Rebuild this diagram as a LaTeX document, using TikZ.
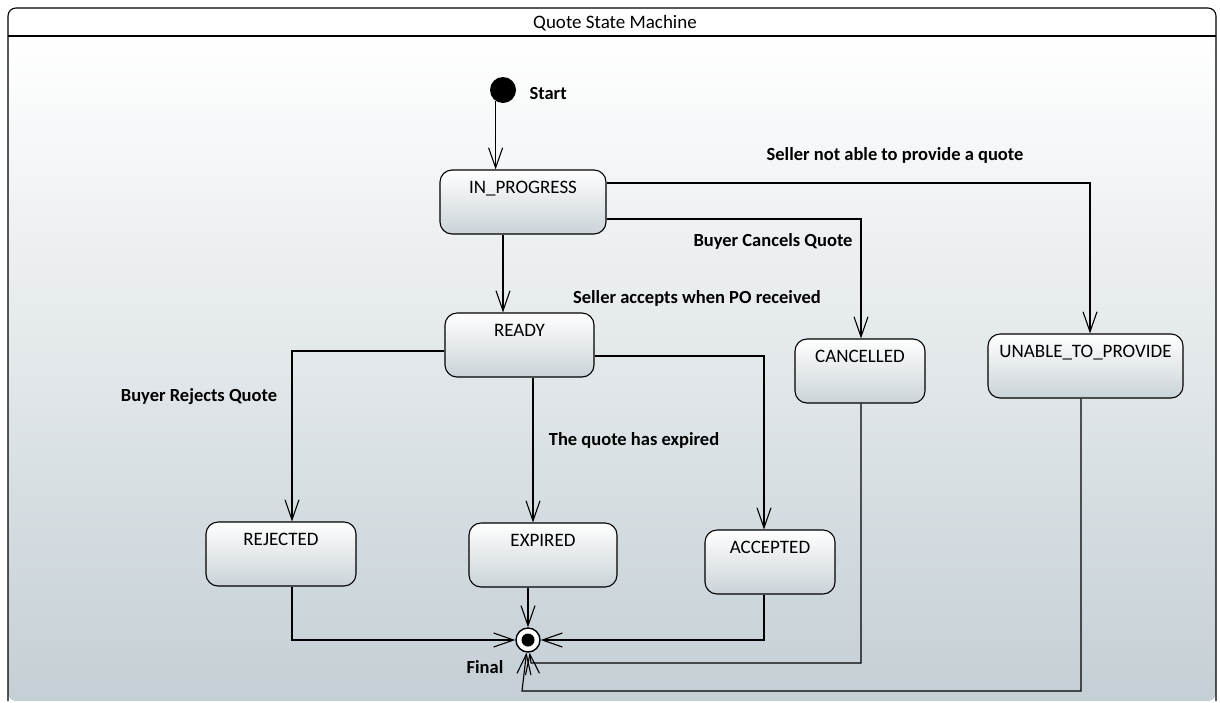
\documentclass[tikz,border=0pt]{standalone}
\usepackage{fontspec}
\setmainfont{Carlito}
\usetikzlibrary{arrows.meta}

\definecolor{bgbottom}{RGB}{196,207,213}
\definecolor{statebottom}{RGB}{202,211,216}

\tikzset{
  state/.style={draw, line width=1.1pt, rounded corners=12pt, top color=white,
    bottom color=statebottom, font=\fontsize{19}{21}\selectfont,
    inner xsep=0pt, inner ysep=10pt, text height=13pt, text depth=31pt},
  trans/.style={font=\bfseries\fontsize{18.5}{20}\selectfont},
  flow/.style={line width=1.1pt, -{Straight Barb[length=20pt,width=14pt,line width=1.1pt]}},
  initial/.style={circle, fill=black, minimum size=26pt, inner sep=0pt},
  finalstate/.style={circle, draw, line width=1.4pt, fill=white, minimum size=24pt, inner sep=0pt,
    path picture={\fill[black] (path picture bounding box.center) circle (6.5pt);}},
}

\begin{document}
\begin{tikzpicture}[x=1pt,y=-1pt]
  \useasboundingbox (0,0) rectangle (1220,702);

  % frame with title band
  \shade[top color=white, bottom color=bgbottom, rounded corners=8pt] (8,36) rectangle (1216,701);
  \draw[line width=1.1pt, rounded corners=8pt] (8,701) -- (8,8) -- (1216,8) -- (1216,701);
  \draw[line width=1.1pt] (8,36) -- (1216,36);
  \node[font=\fontsize{19}{21}\selectfont] (title) at (615,23) {Quote State Machine};

  % states
  \node[initial] (start) at (503,90) {};
  \node[anchor=west, trans] (startlbl) at (526,93) {Start};

  \node[state, minimum width=166pt] (inprogress) at (523,202) {IN\_PROGRESS};
  \node[state, minimum width=149pt] (ready) at (519.5,345) {READY};
  \node[state, minimum width=130pt] (cancelled) at (860,371) {CANCELLED};
  \node[state, minimum width=195pt] (unable) at (1085.5,366) {UNABLE\_TO\_PROVIDE};
  \node[state, minimum width=150pt] (rejected) at (281,554) {REJECTED};
  \node[state, minimum width=148pt] (expired) at (543,555) {EXPIRED};
  \node[state, minimum width=130pt] (accepted) at (770,562) {ACCEPTED};

  \node[finalstate] (final) at (528,640) {};
  \node[trans] (finallbl) at (485,667) {Final};

  % transitions
  \draw[flow] (start.236) -- (start.236 |- inprogress.north);
  \draw[flow] ([xshift=-20pt]inprogress.south) -- ([xshift=-20pt]inprogress.south |- ready.north);
  \draw[flow] ([yshift=19pt]inprogress.east) -| ([xshift=4.5pt]unable.north);
  \draw[flow] ([yshift=-17pt]inprogress.east) -| ([xshift=1pt]cancelled.north);
  \draw[flow] ([yshift=-6pt]ready.west) -| ([xshift=11pt]rejected.north);
  \draw[flow] ([xshift=13.5pt]ready.south) -- ([xshift=13.5pt]ready.south |- expired.north);
  \draw[flow] ([yshift=-11pt]ready.east) -| ([xshift=-6pt]accepted.north);

  \draw[flow] ([xshift=11pt]rejected.south) |- (final.west);
  \draw[flow] (expired.south -| final) -- (final.north);
  \draw[flow] ([xshift=-6pt]accepted.south) |- (final.east);
  \coordinate (cbend) at (531,663);
  \coordinate (ubend) at (522,691);
  \draw[flow] ([xshift=1pt]cancelled.south) |- (cbend) -- (final);
  \draw[flow] ([xshift=-4.5pt]unable.south) |- (ubend) -- (final);

  % labels
  \node[trans] (lblunable) at (895,155) {Seller not able to provide a quote};
  \node[trans] (lblcancel) at (773,241) {Buyer Cancels Quote};
  \node[trans] (lblready) at (697,298) {Seller accepts when PO received};
  \node[trans] (lblreject) at (199,397) {Buyer Rejects Quote};
  \node[trans] (lblexpire) at (634,440) {The quote has expired};
\end{tikzpicture}
\end{document}
